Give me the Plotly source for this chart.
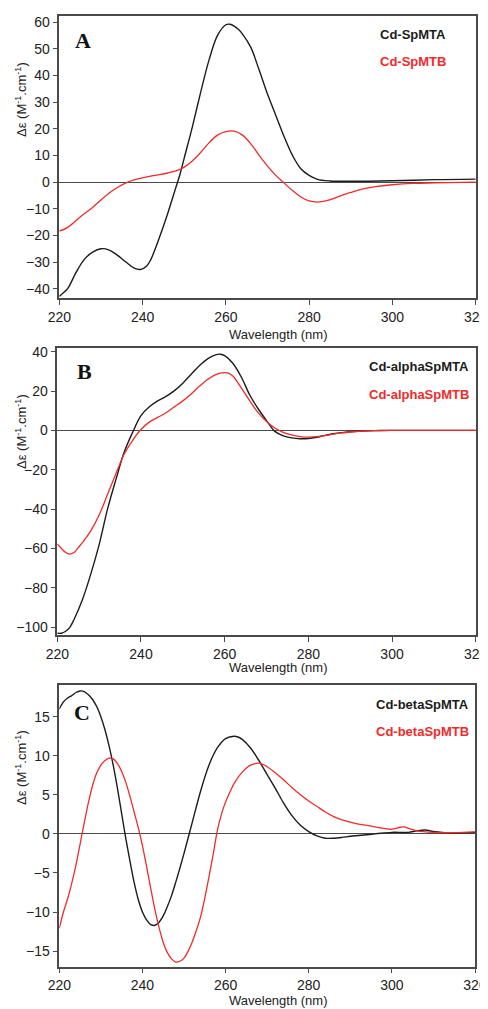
import plotly.graph_objects as go

# ---------------- data ----------------
# Panel A
a_black_x = [220, 221, 222, 224, 226, 228, 230, 232, 234, 236, 238, 239.5, 241, 242, 244, 246, 247, 248, 249, 250,
             252, 254, 256, 258, 260, 261, 262, 263, 264, 266, 268, 270, 272, 274, 276, 278, 280, 282, 285, 290,
             300, 310, 320]
a_black_y = [-42.9, -41.5, -40, -34, -29, -26.3, -25, -25.5, -27.5, -30, -32.3, -32.8, -31.5, -29, -21, -12, -7, -2, 3, 9,
             21, 34, 46, 55, 59, 59.2, 58.5, 57.3, 55.5, 50.5, 42, 33, 25, 17, 10, 5, 2.5, 1, 0.4, 0.3,
             0.5, 0.9, 1.1]
a_red_x = [220, 222, 225, 228, 230, 233, 236, 238, 240, 243, 246, 248, 250, 252, 254, 256, 258, 260, 262, 264, 266,
           268, 270, 272, 274, 276, 278, 280, 282, 284, 286, 288, 290, 293, 296, 300, 305, 310, 320]
a_red_y = [-18.4, -17, -13.1, -9.5, -6.7, -3, -0.3, 0.8, 1.6, 2.5, 3.4, 4.2, 5.6, 8, 11.2, 14.8, 17.6, 18.9, 19.1, 17.6, 14.3,
           10, 6, 2.5, -0.4, -3.2, -5.6, -7.1, -7.5, -7.1, -6.1, -4.9, -3.9, -2.6, -1.7, -1.0, -0.5, -0.3, 0]

# Panel B
b_black_x = [220, 221, 222, 223, 224, 226, 228, 230, 232, 234, 236, 238, 240, 242, 244, 246, 248, 250, 252, 254, 256,
             258, 259, 260, 262, 264, 266, 268, 270, 272, 274, 276, 278, 280, 282, 284, 286, 288, 290, 293, 296,
             300, 320]
b_black_y = [-103, -103, -102, -100, -96, -86, -73, -58, -40, -25, -11, -1, 7.5, 12, 15, 17.3, 20.2, 24, 28.5, 33, 36.5,
             38.5, 38.7, 38, 34, 27, 18, 11, 5, -0.5, -2.8, -3.8, -4.2, -4.1, -3.5, -2.5, -1.7, -1.1, -0.7, -0.3, -0.1,
             0, 0]
b_red_x = [220, 221, 222, 223, 224, 225, 226, 228, 230, 232, 234, 236, 238, 240, 242, 244, 246, 248, 250, 252, 254,
           256, 258, 260, 261, 262, 264, 266, 268, 270, 272, 274, 276, 278, 280, 282, 284, 286, 288, 290, 293, 296,
           300, 320]
b_red_y = [-57.6, -60, -62, -62.8, -62, -59.5, -57, -51, -43, -32.5, -22, -12, -5, 0.5, 4.2, 6.6, 9, 12, 15, 18.5, 22.5,
           26, 28.5, 29.3, 29, 27.5, 21.5, 15, 9, 4.5, 1.2, -1, -2.3, -3.1, -3.4, -3.2, -2.6, -1.9, -1.3, -0.8, -0.3, -0.1,
           0, 0]

# Panel C
c_black_x = [220, 221, 222, 223, 224, 225, 226, 227, 228, 229, 230, 231, 232, 233, 234, 235, 236, 237, 238, 239, 240,
             241, 242, 243, 244, 245, 246, 247, 248, 249, 250, 251, 252, 254, 256, 258, 260, 262, 263, 264, 266, 268,
             270, 272, 274, 276, 278, 280, 282, 284, 286, 288, 290, 292, 296, 300, 304, 306, 308, 310, 314, 320]
c_black_y = [16.0, 16.9, 17.4, 17.7, 18.1, 18.3, 18.2, 17.8, 17.2, 16.3, 15, 13.3, 11.2, 8.7, 5.8, 2.6, -0.6, -3.5, -6.2, -8.4, -10,
             -11, -11.6, -11.7, -11.3, -10.5, -9.3, -7.9, -6.2, -4.4, -2.5, -0.5, 1.5, 5.5, 8.8, 11, 12.2, 12.5, 12.4, 12.1, 11.0, 9.4,
             7.6, 5.8, 3.9, 2.3, 1.1, 0.3, -0.25, -0.55, -0.55, -0.45, -0.3, -0.2, 0, 0.2, 0.2, 0.4, 0.5, 0.3, 0.1, 0.2]
c_red_x = [220, 221, 222, 223, 224, 225, 226, 227, 228, 229, 230, 231, 232, 233, 234, 235, 236, 237, 238, 239, 240, 241,
           242, 243, 244, 245, 246, 247, 248, 249, 250, 251, 252, 253, 254, 255, 256, 257, 258, 259, 260, 261, 262, 264,
           266, 268, 270, 272, 274, 276, 278, 280, 282, 284, 286, 288, 290, 292, 295, 298, 300, 302, 303, 304, 306,
           310, 315, 320]
c_red_y = [-12.1, -10, -8.3, -6.3, -4, -1.3, 1.4, 4, 6.2, 7.8, 8.8, 9.4, 9.7, 9.6, 9.0, 8.0, 6.6, 4.8, 2.8, 0.8, -1.5, -4.2,
           -7.0, -9.7, -12.0, -13.9, -15.2, -16.0, -16.4, -16.3, -15.9, -15.0, -13.8, -12.3, -10.6, -8.2, -5.5, -2.7, 0.4, 2.5,
           4.1, 5.3, 6.4, 7.9, 8.8, 9.05, 8.6, 7.8, 6.9, 5.9, 5, 4.2, 3.5, 2.8, 2.2, 1.8, 1.5, 1.25, 1.0, 0.7, 0.6, 0.85, 0.9,
           0.7, 0.4, 0.2, 0.15, 0.25]

x_ticks = [220, 240, 260, 280, 300, 320]
a_yticks = [-40, -30, -20, -10, 0, 10, 20, 30, 40, 50, 60]
b_yticks = [-100, -80, -60, -40, -20, 0, 20, 40]
c_yticks = [-15, -10, -5, 0, 5, 10, 15]

labels_a = ["Cd-SpMTA", "Cd-SpMTB"]
labels_b = ["Cd-alphaSpMTA", "Cd-alphaSpMTB"]
labels_c = ["Cd-betaSpMTA", "Cd-betaSpMTB"]
panel_letters = ["A", "B", "C"]

# ---------------- style ----------------
# The page body has an 8px margin, so the figure is 8px smaller than the window
# and all screen positions below are shifted by that offset.
OFF = 8
W, H = 488 - OFF, 1009 - OFF
BLACK = "#1c1c1c"
RED = "#f22a2a"
AXC = "#4a4a4a"
TXT = "#222222"
FONT = "Liberation Sans, Arial, sans-serif"


def px(x):
    return (x - OFF) / W


def py(y):
    return 1 - (y - OFF) / H


fig = go.Figure()

panels = [
    dict(bx=a_black_x, by=a_black_y, rx=a_red_x, ry=a_red_y, yt=a_yticks, yr=[-43.6, 62.4],
         xd=[px(59.3), px(475.7)], yd=[py(298.3), py(15.7)], labels=labels_a, lab_right=447.7,
         lab_y=[34, 61.5], letter_xy=(83, 41), ytitle_y=100, xtitle_y=334),
    dict(bx=b_black_x, by=b_black_y, rx=b_red_x, ry=b_red_y, yt=b_yticks, yr=[-103.9, 41.7],
         xd=[px(57.3), px(475.7)], yd=[py(635), py(348.3)], labels=labels_b, lab_right=471,
         lab_y=[366, 394], letter_xy=(84.5, 371.5), ytitle_y=432, xtitle_y=667),
    dict(bx=c_black_x, by=c_black_y, rx=c_red_x, ry=c_red_y, yt=c_yticks, yr=[-17.0, 19.06],
         xd=[px(59.3), px(475)], yd=[py(966.7), py(685)], labels=labels_c, lab_right=470.7,
         lab_y=[704, 731], letter_xy=(81.5, 712.5), ytitle_y=768, xtitle_y=1000),
]

annotations = []
for i, p in enumerate(panels):
    n = "" if i == 0 else str(i + 1)
    xa, ya = "x" + n, "y" + n
    fig.add_trace(go.Scatter(x=p["bx"], y=p["by"], mode="lines", line=dict(color=BLACK, width=1.4, shape="spline"),
                             xaxis=xa, yaxis=ya, showlegend=False, name=p["labels"][0]))
    fig.add_trace(go.Scatter(x=p["rx"], y=p["ry"], mode="lines", line=dict(color=RED, width=1.3, shape="spline"),
                             xaxis=xa, yaxis=ya, showlegend=False, name=p["labels"][1]))
    axis_common = dict(showline=True, linecolor=AXC, linewidth=1.5, mirror=True, ticks="outside", ticklen=5,
                       tickwidth=1.2, tickcolor=AXC, showgrid=False, automargin=False,
                       tickfont=dict(family=FONT, size=14, color=TXT))
    fig.update_layout(**{
        "xaxis" + n: dict(domain=p["xd"], range=[220, 320], tickvals=x_ticks, anchor=ya, zeroline=False,
                          **axis_common),
        "yaxis" + n: dict(domain=p["yd"], range=p["yr"], tickvals=p["yt"], anchor=xa, zeroline=True,
                          zerolinecolor=AXC, zerolinewidth=1.2, **axis_common),
    })
    # legend texts
    annotations.append(dict(x=px(p["lab_right"]), y=py(p["lab_y"][0]), xref="paper", yref="paper",
                            text="<b>%s</b>" % p["labels"][0], showarrow=False, xanchor="right", yanchor="middle",
                            font=dict(family=FONT, size=13, color=BLACK)))
    annotations.append(dict(x=px(p["lab_right"]), y=py(p["lab_y"][1]), xref="paper", yref="paper",
                            text="<b>%s</b>" % p["labels"][1], showarrow=False, xanchor="right", yanchor="middle",
                            font=dict(family=FONT, size=13, color=RED)))
    # panel letter
    annotations.append(dict(x=px(p["letter_xy"][0]), y=py(p["letter_xy"][1]), xref="paper", yref="paper",
                            text="<b>%s</b>" % panel_letters[i], showarrow=False, xanchor="center",
                            yanchor="middle",
                            font=dict(family="Liberation Serif, Times New Roman, serif", size=22, color="#111")))
    # axis titles
    annotations.append(dict(x=px(21), y=py(p["ytitle_y"]), xref="paper", yref="paper",
                            text="Δε (M<sup>-1</sup>.cm<sup>-1</sup>)", showarrow=False, textangle=-90,
                            xanchor="center", yanchor="middle", font=dict(family=FONT, size=13, color=TXT)))
    annotations.append(dict(x=px(278.5), y=py(p["xtitle_y"]), xref="paper", yref="paper",
                            text="Wavelength (nm)", showarrow=False, xanchor="center", yanchor="middle",
                            font=dict(family=FONT, size=13, color=TXT)))

fig.update_layout(width=W, height=H, margin=dict(l=0, r=0, t=0, b=0), paper_bgcolor="white",
                  plot_bgcolor="white", annotations=annotations, showlegend=False)

fig.write_html("out.html")
